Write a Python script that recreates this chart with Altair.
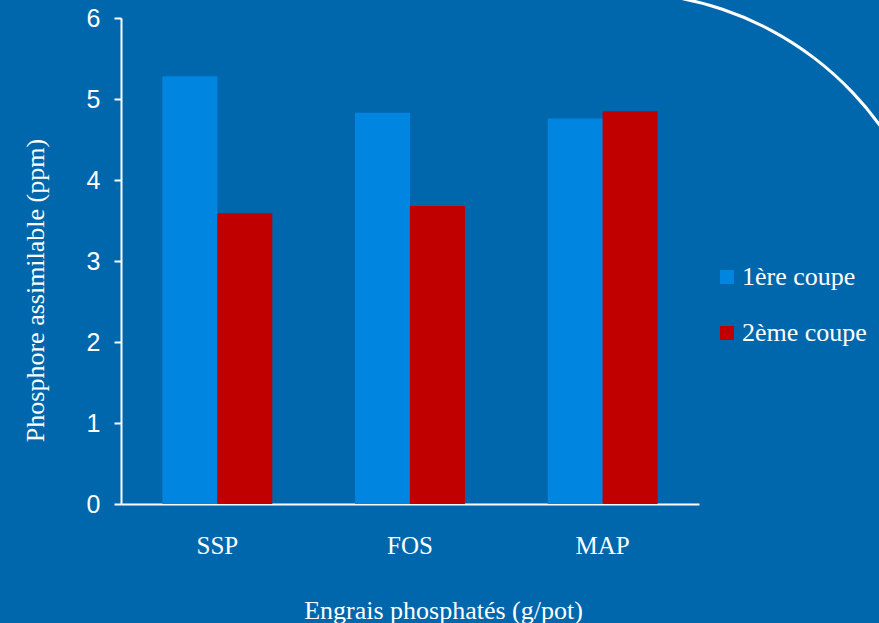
import altair as alt
import pandas as pd

categories = ["SSP", "FOS", "MAP"]
series = ["1ère coupe", "2ème coupe"]
values_1 = [5.28, 4.83, 4.76]
values_2 = [3.59, 3.68, 4.85]
y_ticks = [0, 1, 2, 3, 4, 5, 6]

rows = []
for c, v1, v2 in zip(categories, values_1, values_2):
    rows.append({"cat": c, "serie": series[0], "val": v1})
    rows.append({"cat": c, "serie": series[1], "val": v2})
df = pd.DataFrame(rows)

BG = "#0067AC"
SERIF = "Liberation Serif"
SANS = "Liberation Sans"

bars = alt.Chart(df).mark_bar(size=55).encode(
    x=alt.X("cat:N", sort=categories,
            scale=alt.Scale(paddingInner=0.43, paddingOuter=0.215),
            axis=alt.Axis(title="Engrais phosphatés (g/pot)", labelAngle=0,
                          ticks=False, tickSize=0, labelPadding=49,
                          labelBaseline="alphabetic",
                          labelFont=SERIF, labelFontSize=25, labelColor="white",
                          domainColor="white", domainWidth=2,
                          titleFont=SERIF, titleFontSize=26, titleColor="white",
                          titleFontWeight="normal", titleX=322, titleY=114,
                          titleAlign="center", titleBaseline="alphabetic")),
    xOffset=alt.XOffset("serie:N", sort=series,
                        scale=alt.Scale(paddingInner=0, paddingOuter=0)),
    y=alt.Y("val:Q", scale=alt.Scale(domain=[0, 6], nice=False),
            axis=alt.Axis(title="Phosphore assimilable (ppm)", values=y_ticks,
                          grid=False, tickSize=7, tickColor="white", tickWidth=2,
                          labelPadding=14, labelFont=SANS, labelFontSize=25,
                          labelColor="white", domainColor="white", domainWidth=2,
                          titleFont=SERIF, titleFontSize=26, titleColor="white",
                          titleFontWeight="normal", titleX=-78, titleY=272,
                          titleAngle=270, titleAlign="center",
                          titleBaseline="alphabetic")),
    color=alt.Color("serie:N", sort=series,
                    scale=alt.Scale(domain=series, range=["#0085E0", "#C00000"]),
                    legend=alt.Legend(title=None, orient="none", legendX=593,
                                      legendY=246, symbolType="square",
                                      symbolSize=196, symbolStrokeWidth=0,
                                      labelFont=SERIF, labelFontSize=26,
                                      labelColor="white", labelOffset=2,
                                      rowPadding=30, padding=0)),
)

arc_df = pd.DataFrame({"k": [0]})
arc = alt.Chart(arc_df).mark_arc(radius=322, radius2=319, theta=0, theta2=1.3,
                                 color="white").encode(
    x=alt.value(499), y=alt.value(295)
)

chart = alt.layer(bars, arc).properties(
    width=578, height=486,
    background=BG,
    padding={"left": 121, "top": 18, "right": 180, "bottom": 119},
    autosize=alt.AutoSizeParams(type="none"),
).configure_view(stroke=None)

chart.save("out.html", embed_options={"renderer": "svg", "actions": False})
